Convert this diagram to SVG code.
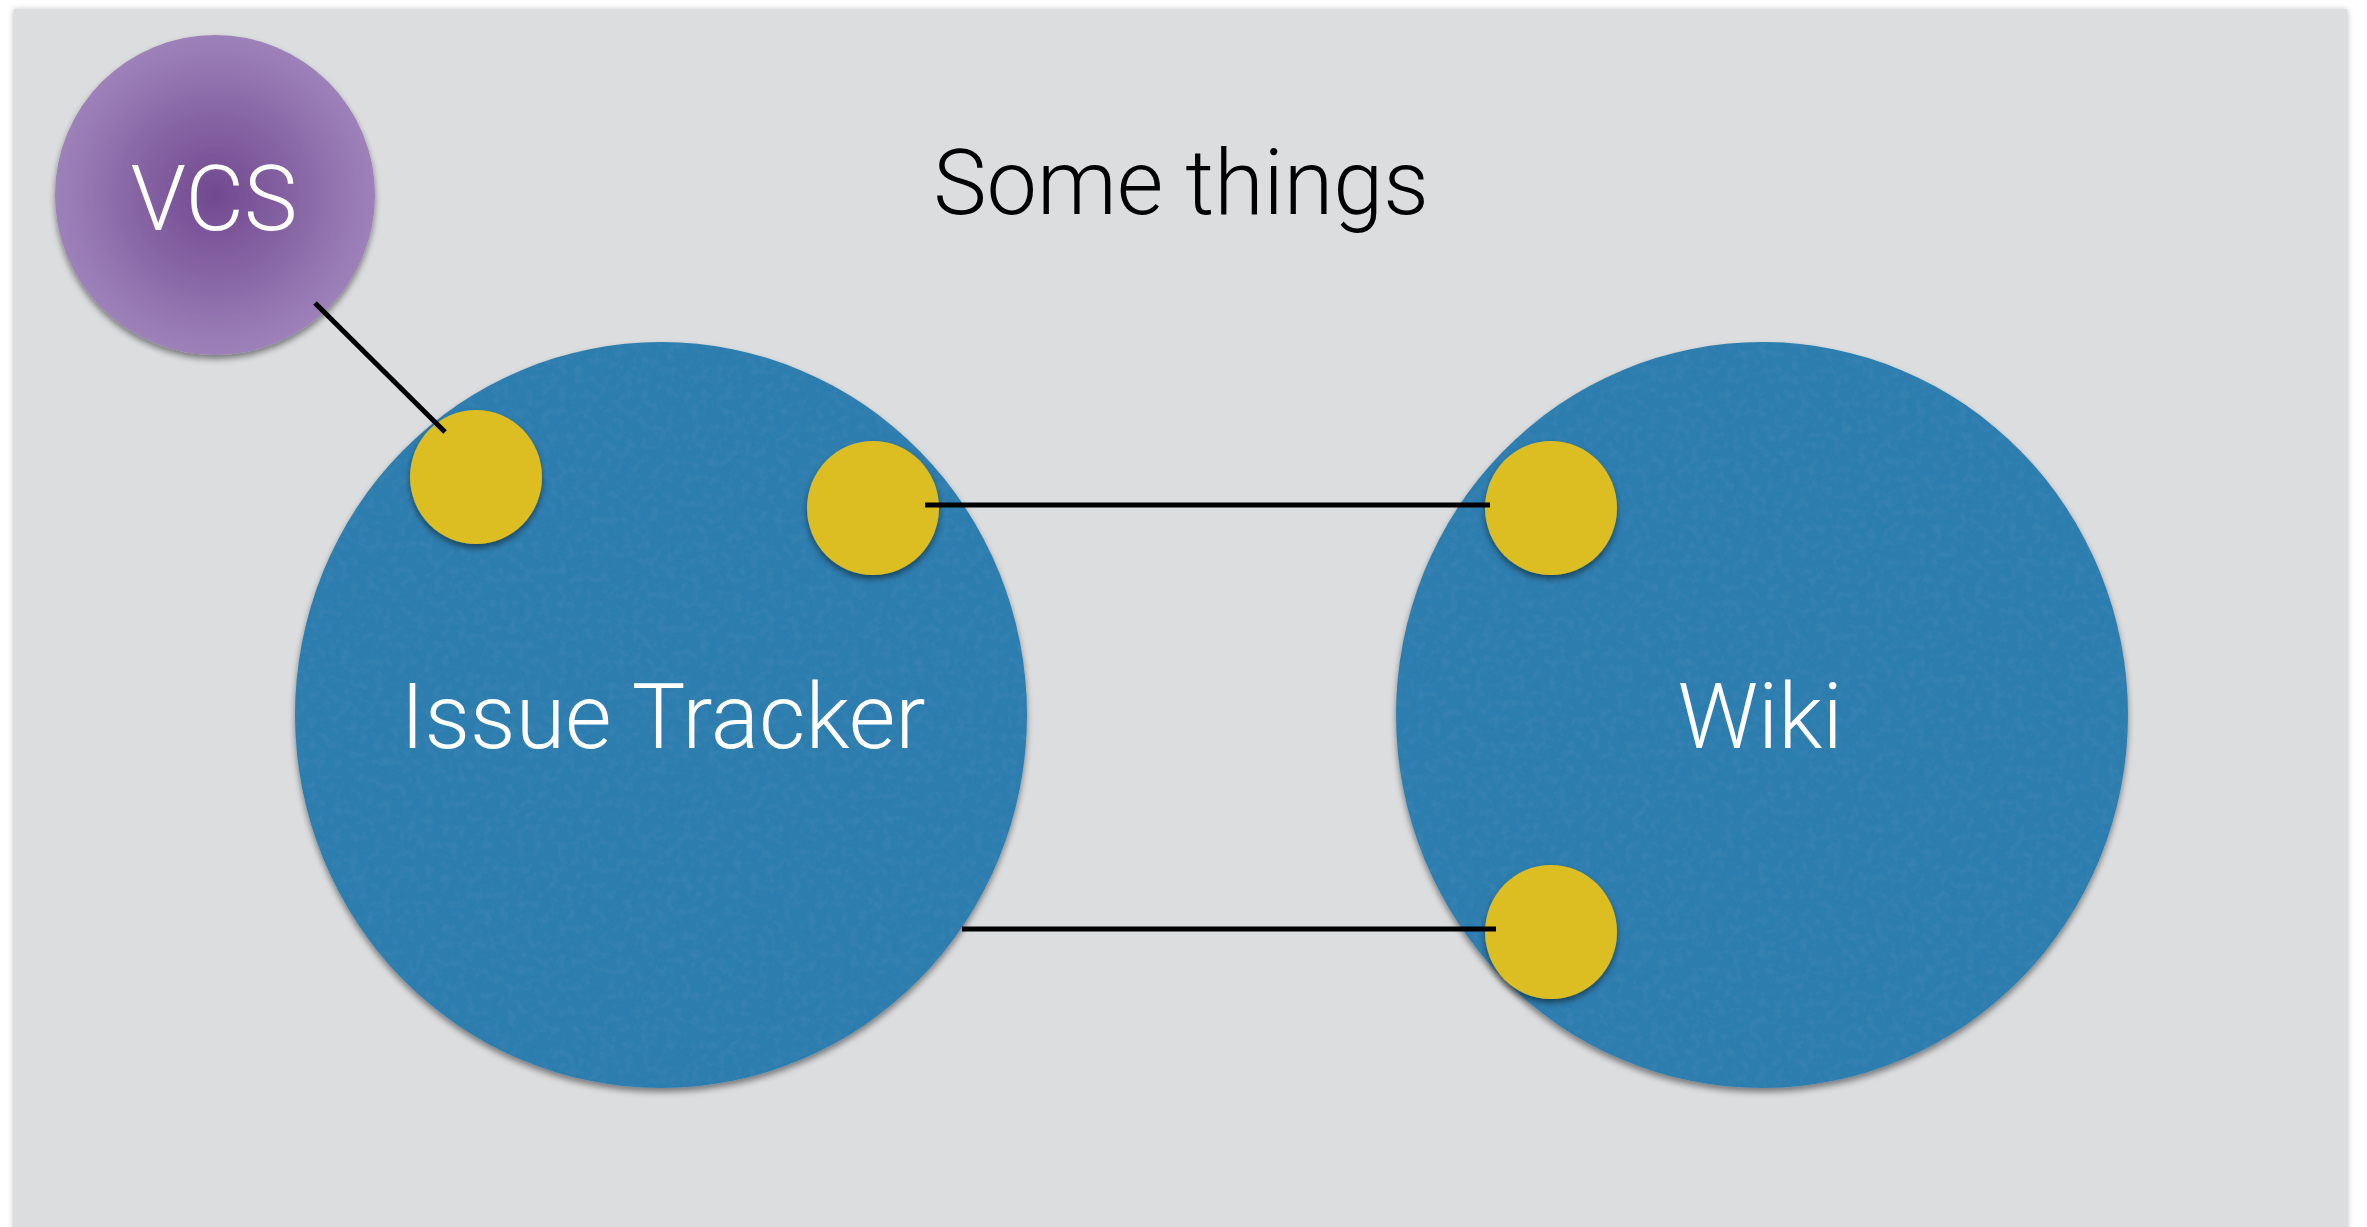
<svg xmlns="http://www.w3.org/2000/svg" width="2367" height="1227" viewBox="0 0 2367 1227">
  <defs>
    <style>
      .label { font-family: Roboto, "Open Sans", "Liberation Sans", sans-serif; font-weight: 300; font-size: 90px; text-anchor: middle; }
      .light { fill: #ffffff; }
      .dark { fill: #000000; }
      .big { fill: #2e7daf; }
      .dot { fill: #dcbd23; }
      .link { stroke: #000000; stroke-width: 5; fill: none; }
    </style>
    <radialGradient id="vcsFill" cx="0.5" cy="0.5" r="0.5">
      <stop offset="0" stop-color="#714990"/>
      <stop offset="1" stop-color="#9d81b9"/>
    </radialGradient>
    <filter id="shadow" x="-10%" y="-10%" width="120%" height="125%">
      <feGaussianBlur in="SourceAlpha" stdDeviation="3"/>
      <feOffset dy="4" result="b"/>
      <feFlood flood-color="#000000" flood-opacity="0.45"/>
      <feComposite in2="b" operator="in"/>
      <feMerge><feMergeNode/><feMergeNode in="SourceGraphic"/></feMerge>
    </filter>
    <!-- faint paper grain on the large discs, plus the same drop shadow -->
    <filter id="paper" x="-10%" y="-10%" width="120%" height="125%">
      <feTurbulence type="fractalNoise" baseFrequency="0.12" numOctaves="3" seed="3" result="n"/>
      <feColorMatrix in="n" type="matrix" values="0 0 0 0 0.12  0 0 0 0 0.38  0 0 0 0 0.58  0 0 0 -0.25 0.15" result="tint"/>
      <feComposite in="tint" in2="SourceGraphic" operator="in" result="tex"/>
      <feMerge result="textured"><feMergeNode in="SourceGraphic"/><feMergeNode in="tex"/></feMerge>
      <feGaussianBlur in="SourceAlpha" stdDeviation="3"/>
      <feOffset dy="4" result="b"/>
      <feFlood flood-color="#000000" flood-opacity="0.45"/>
      <feComposite in2="b" operator="in" result="sh"/>
      <feMerge><feMergeNode in="sh"/><feMergeNode in="textured"/></feMerge>
    </filter>
    <filter id="panelShadow" x="-2%" y="-2%" width="104%" height="104%">
      <feGaussianBlur in="SourceAlpha" stdDeviation="3"/>
      <feOffset dx="0" dy="1" result="b"/>
      <feFlood flood-color="#000000" flood-opacity="0.3"/>
      <feComposite in2="b" operator="in"/>
      <feMerge><feMergeNode/><feMergeNode in="SourceGraphic"/></feMerge>
    </filter>
  </defs>

  <rect x="0" y="0" width="2367" height="1227" fill="#ffffff"/>
  <!-- slide panel -->
  <rect x="14" y="9" width="2333" height="1240" fill="#dcdddf" filter="url(#panelShadow)"/>

  <text class="label dark" x="1181" y="214">Some things</text>

  <g id="issue-tracker">
    <ellipse class="big" cx="661" cy="715" rx="366" ry="373" filter="url(#paper)"/>
    <text class="label light" x="663" y="748">Issue Tracker</text>
  </g>

  <g id="wiki">
    <ellipse class="big" cx="1762" cy="715" rx="366" ry="373" filter="url(#paper)"/>
    <text class="label light" x="1760" y="748">Wiki</text>
  </g>

  <g id="vcs">
    <circle cx="215" cy="195" r="160" fill="url(#vcsFill)" filter="url(#shadow)"/>
    <text class="label light" x="214" y="230">VCS</text>
  </g>

  <g id="tracker-port-a">
    <ellipse class="dot" cx="476" cy="477" rx="66" ry="67" filter="url(#shadow)"/>
  </g>
  <g id="tracker-port-b">
    <ellipse class="dot" cx="873" cy="508" rx="66" ry="67" filter="url(#shadow)"/>
  </g>
  <g id="wiki-port-a">
    <ellipse class="dot" cx="1551" cy="508" rx="66" ry="67" filter="url(#shadow)"/>
  </g>
  <g id="wiki-port-b">
    <ellipse class="dot" cx="1551" cy="932" rx="66" ry="67" filter="url(#shadow)"/>
  </g>

  <g id="connectors">
    <line class="link" x1="315" y1="303" x2="445" y2="432"/>
    <line class="link" x1="925" y1="505" x2="1490" y2="505"/>
    <line class="link" x1="962" y1="929" x2="1496" y2="929"/>
  </g>
</svg>
